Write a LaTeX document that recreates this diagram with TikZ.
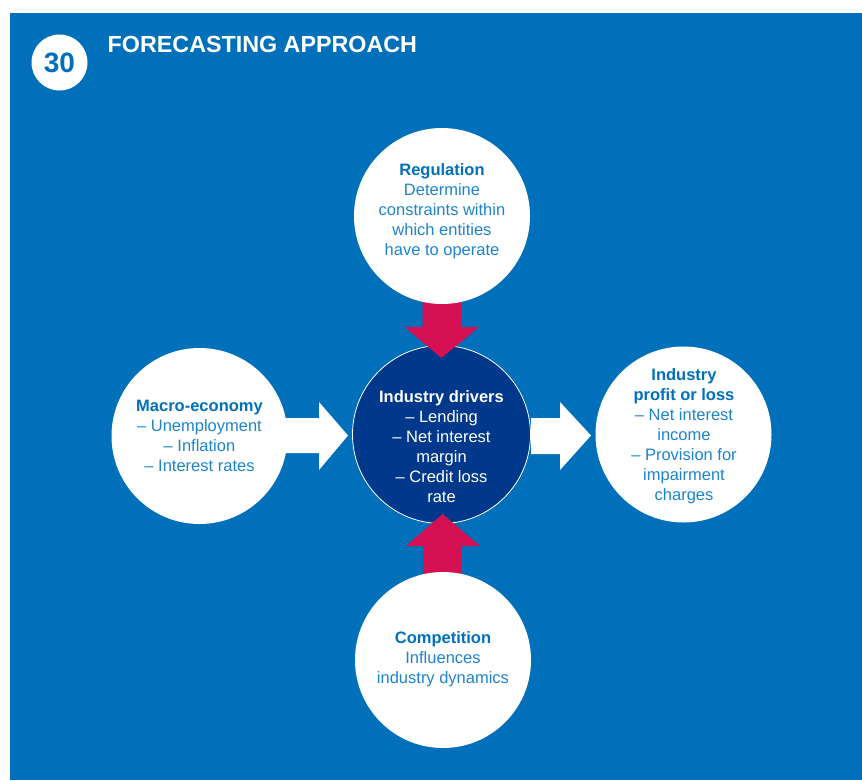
\documentclass[tikz,border=0pt]{standalone}
\usepackage{fontspec}
\setmainfont{Liberation Sans}
\usetikzlibrary{calc}
\definecolor{bgblue}{RGB}{0,112,186}
\definecolor{navy}{RGB}{0,56,140}
\definecolor{crimson}{RGB}{212,16,82}
\definecolor{txtblue}{RGB}{0,112,186}
\definecolor{itemblue}{RGB}{30,132,204}
\begin{document}
\begin{tikzpicture}[x=1pt,y=-1pt,
  wcirc/.style={circle,fill=white,minimum size=176pt,inner sep=0pt},
  ncirc/.style={circle,fill=navy,draw=white,line width=0.8pt,minimum size=178pt,inner sep=0pt},
  ctext/.style={align=center,inner sep=0pt,font=\fontsize{16.5}{20}\selectfont},
  wtext/.style={ctext,text=itemblue},
  badge/.style={circle,fill=white,minimum size=56pt,inner sep=0pt,text=bgblue,font=\fontsize{28}{32}\selectfont\bfseries},
  titletext/.style={text=white,inner sep=0pt,font=\fontsize{23.3}{28}\selectfont\bfseries},
  redarrow/.style={fill=crimson},
  whitearrow/.style={fill=white}]
\useasboundingbox (0,0) rectangle (862,780);
\fill[white] (0,0) rectangle (862,780);
\fill[bgblue] (10,13) rectangle (862,780);
\node[badge] (badge) at (59.5,62.5) {30};
\node[titletext,anchor=base west] (title) at (107.5,52) {FORECASTING APPROACH};
% centre
\node[ncirc] (drv) at (441.5,434.5) {};
% arrows
\fill[redarrow] (422.5,295) -- (461,295) -- (461,327) -- (479,327) -- (441.5,358) -- (404.5,327) -- (422.5,327) -- cycle;
\fill[redarrow] (423,580) -- (461,580) -- (461,546) -- (480,546) -- (442.5,514) -- (406,546) -- (423,546) -- cycle;
\fill[whitearrow] (280,418) -- (319,418) -- (319,402) -- (348,435.5) -- (319,470) -- (319,453) -- (280,453) -- cycle;
\fill[whitearrow] (531,418) -- (560,418) -- (560,402) -- (591,435.5) -- (560,470) -- (560,454) -- (531,454) -- cycle;
% outer circles
\node[wcirc] (reg) at (442,216) {};
\node[wcirc] (mac) at (199.5,436) {};
\node[wcirc] (ind) at (683.5,434.5) {};
\node[wcirc] (comp) at (443,660) {};
% texts
\node[wtext] (regt) at (442,211) {\textbf{\color{txtblue}Regulation}\\Determine\\constraints within\\which entities\\have to operate};
\node[ctext,text=white] (drvt) at (441.5,447) {\textbf{Industry drivers}\\– Lending\\– Net interest\\margin\\– Credit loss\\rate};
\node[wtext] (mact) at (199.5,436) {\textbf{\color{txtblue}Macro-economy}\\– Unemployment\\– Inflation\\– Interest rates};
\node[wtext] (indt) at (684,436) {\textbf{\color{txtblue}Industry}\\\textbf{\color{txtblue}profit or loss}\\– Net interest\\income\\– Provision for\\impairment\\charges};
\node[wtext] (compt) at (443,659) {\textbf{\color{txtblue}Competition}\\Influences\\industry dynamics};
\end{tikzpicture}
\end{document}
